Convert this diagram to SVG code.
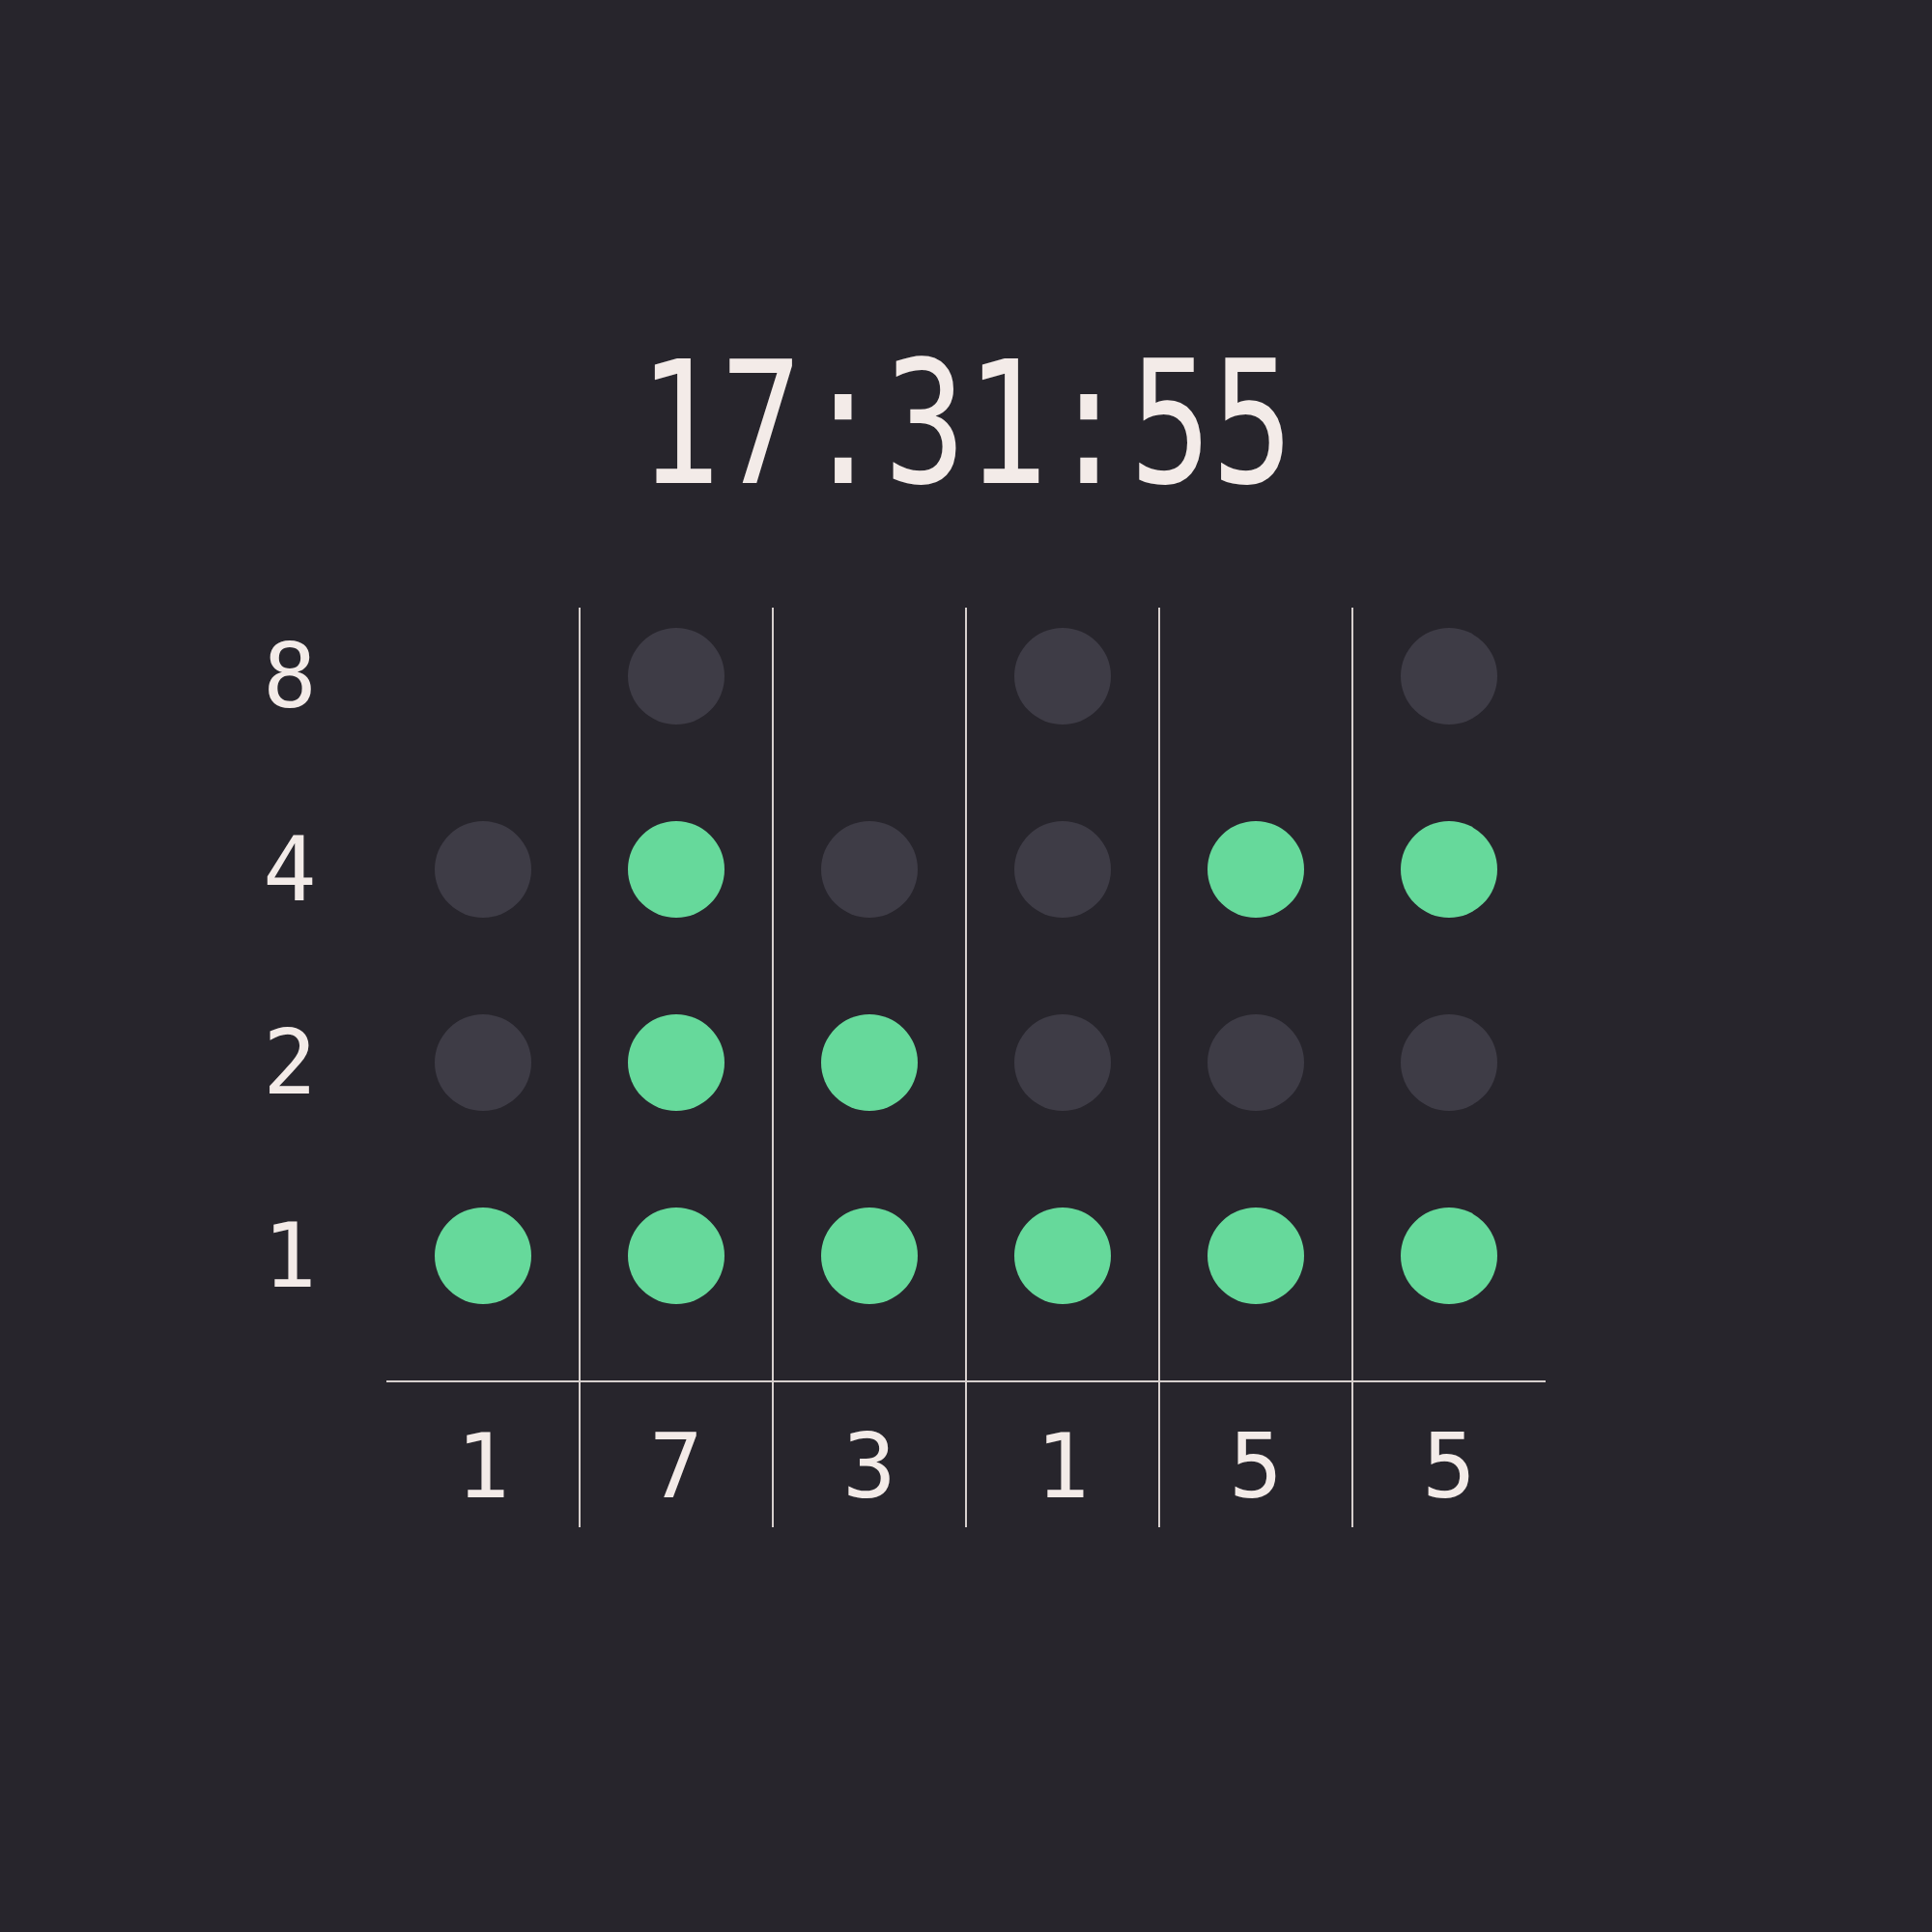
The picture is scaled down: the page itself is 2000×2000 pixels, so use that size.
<svg xmlns="http://www.w3.org/2000/svg" width="2000" height="2000" viewBox="0 0 2000 2000">
<style>
.bg{fill:#27252c}
.on{fill:#66d99b}
.off{fill:#3e3c46}
.t{fill:#f3ebe8;font-family:"DejaVu Sans Mono","Liberation Mono",monospace;text-anchor:middle}
.title{font-size:177px}
.lab{font-size:92px}
.grid line{stroke:#d6cfcd;stroke-width:2}
</style>
<rect class="bg" x="0" y="0" width="2000" height="2000"/>
<text id="title" class="t title" x="1000" y="500" textLength="678" lengthAdjust="spacingAndGlyphs">17:31:55</text>
<g id="grid" class="grid">
<line x1="400" y1="1430" x2="1600" y2="1430"/>
<line x1="600" y1="629" x2="600" y2="1581"/>
<line x1="800" y1="629" x2="800" y2="1581"/>
<line x1="1000" y1="629" x2="1000" y2="1581"/>
<line x1="1200" y1="629" x2="1200" y2="1581"/>
<line x1="1400" y1="629" x2="1400" y2="1581"/>
</g>
<g id="row-labels">
<text class="t lab" x="300" y="732">8</text>
<text class="t lab" x="300" y="932">4</text>
<text class="t lab" x="300" y="1132">2</text>
<text class="t lab" x="300" y="1332">1</text>
</g>
<g id="col1">
<circle class="off" cx="500" cy="900" r="50"/>
<circle class="off" cx="500" cy="1100" r="50"/>
<circle class="on" cx="500" cy="1300" r="50"/>
<text class="t lab" x="500" y="1550">1</text>
</g>
<g id="col2">
<circle class="off" cx="700" cy="700" r="50"/>
<circle class="on" cx="700" cy="900" r="50"/>
<circle class="on" cx="700" cy="1100" r="50"/>
<circle class="on" cx="700" cy="1300" r="50"/>
<text class="t lab" x="700" y="1550">7</text>
</g>
<g id="col3">
<circle class="off" cx="900" cy="900" r="50"/>
<circle class="on" cx="900" cy="1100" r="50"/>
<circle class="on" cx="900" cy="1300" r="50"/>
<text class="t lab" x="900" y="1550">3</text>
</g>
<g id="col4">
<circle class="off" cx="1100" cy="700" r="50"/>
<circle class="off" cx="1100" cy="900" r="50"/>
<circle class="off" cx="1100" cy="1100" r="50"/>
<circle class="on" cx="1100" cy="1300" r="50"/>
<text class="t lab" x="1100" y="1550">1</text>
</g>
<g id="col5">
<circle class="on" cx="1300" cy="900" r="50"/>
<circle class="off" cx="1300" cy="1100" r="50"/>
<circle class="on" cx="1300" cy="1300" r="50"/>
<text class="t lab" x="1300" y="1550">5</text>
</g>
<g id="col6">
<circle class="off" cx="1500" cy="700" r="50"/>
<circle class="on" cx="1500" cy="900" r="50"/>
<circle class="off" cx="1500" cy="1100" r="50"/>
<circle class="on" cx="1500" cy="1300" r="50"/>
<text class="t lab" x="1500" y="1550">5</text>
</g>
</svg>
